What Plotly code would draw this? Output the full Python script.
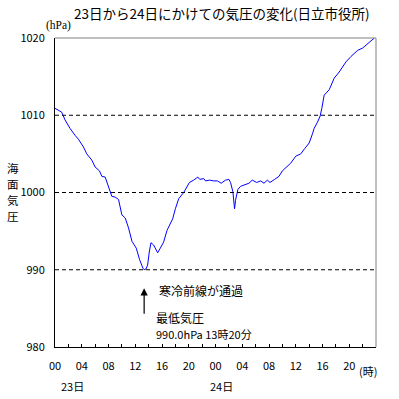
import plotly.graph_objects as go

# Data (hours from 23日 00:00, pressure hPa)
hours = [0.0, 0.5, 1.0, 1.5, 2.25, 3.0, 3.5, 4.25, 4.75, 5.5, 6.0, 6.65, 7.0, 7.5, 8.0,
         8.5, 9.0, 9.5, 10.0, 10.5, 11.0, 11.5, 12.15, 12.65, 13.15, 13.33, 13.6, 13.85,
         14.1, 14.35, 14.75, 15.05, 15.35, 15.75, 16.25, 16.75, 17.25, 17.6, 18.0, 18.5,
         19.25, 20.1, 20.75, 21.35, 21.65, 22.25, 22.5, 23.1, 23.75, 24.3, 24.85, 25.5,
         26.0, 26.25, 26.6, 26.75, 26.85, 27.0, 27.15, 27.35, 27.75, 28.5, 29.0, 29.5,
         30.15, 30.75, 31.25, 31.75, 32.15, 32.85, 33.5, 34.0, 34.25, 35.0, 35.25, 36.0,
         36.75, 37.35, 38.0, 38.5, 38.75, 39.25, 39.65, 39.9, 40.25, 41.0, 41.75, 42.5,
         43.5, 44.25, 45.25, 46.0, 46.75, 47.75]
pressure = [1010.9, 1010.7, 1010.4, 1009.4, 1008.3, 1007.4, 1006.9, 1005.9, 1005.0, 1004.2,
            1003.3, 1002.8, 1002.1, 1002.0, 1000.8, 999.5, 999.4, 999.1, 997.1, 996.7,
            995.4, 993.7, 992.8, 991.3, 990.2, 990.0, 990.1, 990.6, 992.3, 993.5, 993.2,
            992.6, 992.2, 992.8, 993.6, 995.1, 996.0, 996.6, 997.9, 999.2, 1000.0, 1001.3,
            1001.6, 1002.0, 1001.7, 1001.8, 1001.5, 1001.6, 1001.5, 1001.5, 1001.2, 1001.6,
            1001.7, 1001.3, 1000.1, 998.8, 997.9, 999.0, 999.8, 1000.4, 1000.8, 1001.1,
            1001.2, 1001.6, 1001.3, 1001.5, 1001.2, 1001.6, 1001.3, 1001.7, 1002.1, 1002.8,
            1003.0, 1003.6, 1003.8, 1004.7, 1005.0, 1005.7, 1006.4, 1007.6, 1008.3, 1009.1,
            1009.9, 1010.9, 1012.6, 1013.3, 1014.8, 1015.6, 1016.9, 1017.6, 1018.4, 1018.7,
            1019.3, 1020.0]

x_tickvals = [0, 2, 4, 6, 8, 10, 12, 14, 16, 18, 20, 22, 24, 26, 28, 30, 32, 34, 36, 38, 40, 42, 44, 46]
x_ticktext = ["00", "", "04", "", "08", "", "12", "", "16", "", "20", "",
              "00", "", "04", "", "08", "", "12", "", "16", "", "20", ""]
y_tickvals = [980, 990, 1000, 1010, 1020]
grid_levels = [990, 1000, 1010]
day_labels = ["23日", "24日"]
day_label_x = [2.55, 24.9]
ylabel_chars = ["海", "面", "気", "圧"]
ylabel_pos = [0.579, 0.527, 0.475, 0.423]

min_time = 13.33
min_label_tip = 987.6
min_label_tail = 984.1

FONT = "Noto Sans CJK JP"

fig = go.Figure()
fig.add_trace(go.Scatter(x=hours, y=pressure, mode="lines",
                         line=dict(color="#0000FF", width=1), hoverinfo="skip"))

shapes = []
for g in grid_levels:
    shapes.append(dict(type="line", xref="paper", yref="y", x0=0, x1=1, y0=g, y1=g,
                       line=dict(color="black", width=1, dash="4px,3px")))
# gray top and right border
shapes.append(dict(type="line", xref="paper", yref="paper", x0=0, x1=1, y0=1, y1=1,
                   line=dict(color="#808080", width=1)))
shapes.append(dict(type="line", xref="paper", yref="paper", x0=1, x1=1, y0=0, y1=1,
                   line=dict(color="#808080", width=1)))

annotations = [
    dict(text="23日から24日にかけての気圧の変化(日立市役所)", xref="paper", yref="paper",
         x=0.52, y=1.081, showarrow=False, font=dict(size=13.5, family=FONT, color="black"),
         xanchor="center", yanchor="middle"),
    dict(text="(hPa)", xref="paper", yref="paper", x=0.011, y=1.042, showarrow=False,
         font=dict(size=11.5, family="Liberation Serif", color="black"), xanchor="center", yanchor="middle"),
    dict(text="(時)", xref="paper", yref="paper", x=0.975, y=-0.078, showarrow=False,
         font=dict(size=11, family=FONT, color="black"), xanchor="center", yanchor="middle"),
    dict(text="寒冷前線が通過", xref="x", yref="y", x=15.3, y=987.25, showarrow=False,
         font=dict(size=12, family=FONT, color="black"), xanchor="left", yanchor="middle"),
    dict(text="最低気圧", xref="x", yref="y", x=14.85, y=983.8, showarrow=False,
         font=dict(size=12, family=FONT, color="black"), xanchor="left", yanchor="middle"),
    dict(text="990.0hPa 13時20分", xref="x", yref="y", x=14.85, y=981.65, showarrow=False,
         font=dict(size=11, family=FONT, color="black"), xanchor="left", yanchor="middle"),
    dict(text="", xref="x", yref="y", x=min_time, y=min_label_tip, axref="x", ayref="y",
         ax=min_time, ay=min_label_tail, showarrow=True, arrowhead=2, arrowsize=1.2,
         arrowwidth=1.2, arrowcolor="black"),
]
for ch, cy in zip(ylabel_chars, ylabel_pos):
    annotations.append(dict(text=ch, xref="paper", yref="paper", x=-0.131, y=cy,
                            showarrow=False, font=dict(size=11.5, family=FONT, color="black"),
                            xanchor="center", yanchor="middle"))
for lbl, lx in zip(day_labels, day_label_x):
    annotations.append(dict(text=lbl, xref="x", yref="paper", x=lx, y=-0.126, showarrow=False,
                            font=dict(size=11, family=FONT, color="black"),
                            xanchor="center", yanchor="middle"))

fig.update_layout(
    width=399, height=399,
    margin=dict(l=55, r=23, t=38, b=52),
    paper_bgcolor="white", plot_bgcolor="white",
    showlegend=False,
    shapes=shapes,
    annotations=annotations,
    font=dict(family=FONT, color="black", size=11),
    xaxis=dict(range=[0, 48], tickvals=x_tickvals, ticktext=x_ticktext,
               ticks="inside", ticklen=3, tickcolor="black", showgrid=False,
               showline=True, linecolor="black", linewidth=1, zeroline=False,
               ticklabelstandoff=9, tickfont=dict(size=11, family=FONT)),
    yaxis=dict(range=[980, 1020], tickvals=y_tickvals, ticks="", showgrid=False,
               showline=True, linecolor="black", linewidth=1, zeroline=False,
               ticklabelstandoff=7, tickfont=dict(size=11, family=FONT)),
)

fig.write_html("out.html", config={"displayModeBar": False},
               post_script="document.body.style.margin='0px';")
